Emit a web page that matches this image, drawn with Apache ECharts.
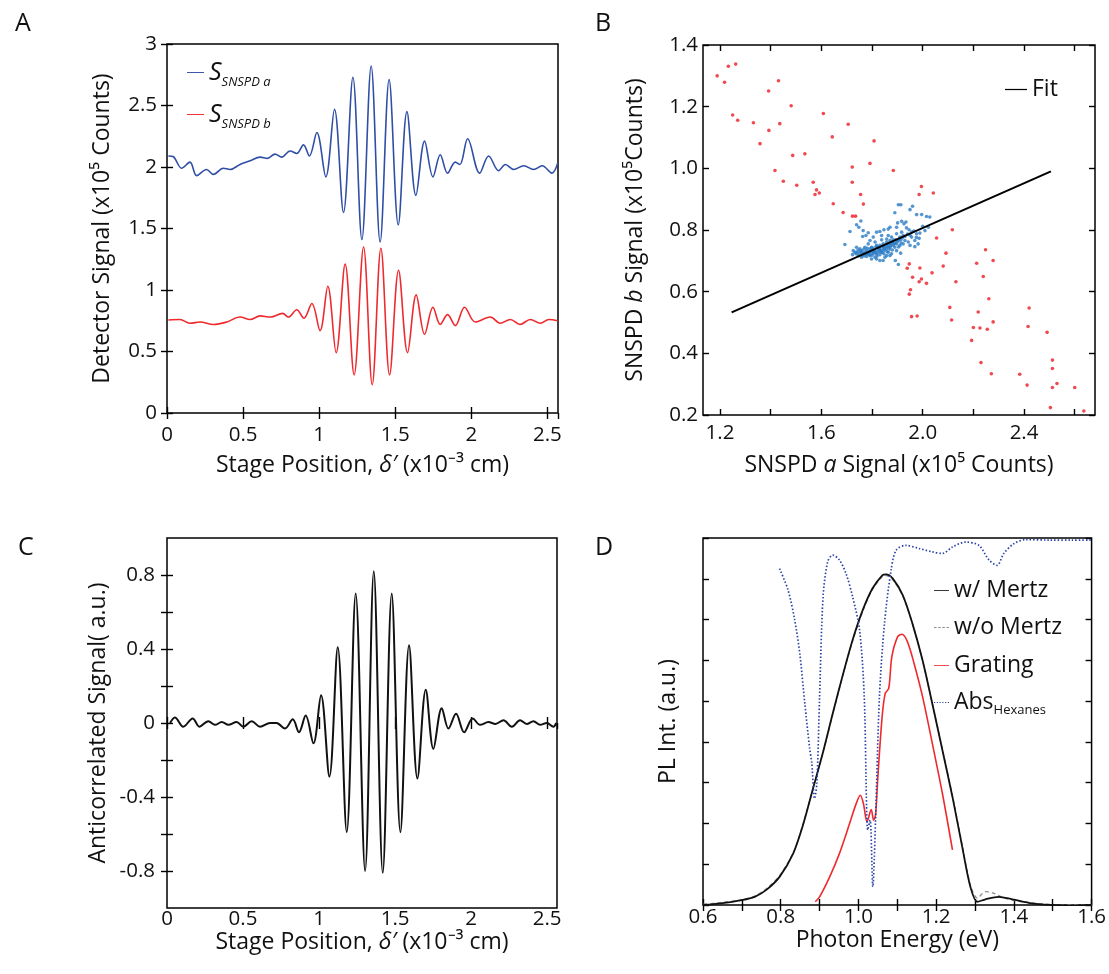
<!DOCTYPE html>
<html>
<head>
<meta charset="utf-8">
<script src="https://cdn.jsdelivr.net/npm/echarts@6/dist/echarts.min.js"></script>
<style>
html,body{margin:0;padding:0;background:#fff;}
#chart{width:1109px;height:974px;}
</style>
</head>
<body>
<div id="chart"></div>
<script>
// ---------------- DATA ----------------
// Panel A: detector signals [stage position (x10^-3 cm), signal (x10^5 counts)]
const aSignalA = [[0.009,2.09],[0.04,2.085],[0.096,1.99],[0.151,2.04],[0.195,1.93],[0.26,1.98],[0.305,1.94],[0.37,1.99],[0.415,1.98],[0.48,2.02],[0.546,2.05],[0.612,2.08],[0.66,2.07],[0.71,2.105],[0.754,2.08],[0.809,2.13],[0.853,2.11],[0.897,2.18],[0.936,2.09],[0.985,2.28],[1.044,1.92],[1.101,2.47],[1.16,1.63],[1.222,2.73],[1.281,1.41],[1.342,2.82],[1.401,1.39],[1.46,2.71],[1.52,1.53],[1.577,2.45],[1.636,1.77],[1.693,2.21],[1.748,1.92],[1.796,2.10],[1.844,1.95],[1.895,2.04],[1.925,2.02],[1.976,2.23],[2.055,1.95],[2.114,2.09],[2.18,1.97],[2.224,2.02],[2.279,1.98],[2.345,2.01],[2.41,1.98],[2.466,2.01],[2.53,1.95],[2.568,2.03]];
const aSignalB = [[0.009,0.756],[0.085,0.76],[0.151,0.73],[0.217,0.74],[0.305,0.72],[0.393,0.74],[0.48,0.78],[0.546,0.76],[0.612,0.79],[0.68,0.78],[0.76,0.81],[0.798,0.78],[0.853,0.84],[0.90,0.77],[0.952,0.89],[1.006,0.67],[1.057,1.03],[1.112,0.49],[1.171,1.21],[1.23,0.31],[1.292,1.35],[1.349,0.23],[1.406,1.34],[1.463,0.31],[1.522,1.16],[1.581,0.49],[1.638,0.96],[1.693,0.64],[1.748,0.86],[1.796,0.72],[1.844,0.80],[1.895,0.71],[1.956,0.86],[2.026,0.74],[2.125,0.78],[2.19,0.73],[2.257,0.76],[2.32,0.72],[2.388,0.76],[2.454,0.73],[2.51,0.76],[2.568,0.75]];

// Panel B: SNSPD a vs SNSPD b (x10^5 counts)
const bRedPoints = [[1.189,1.30],[1.218,1.279],[1.233,1.331],[1.262,1.338],[1.25,1.173],[1.27,1.156],[1.332,1.148],[1.392,1.251],[1.431,1.284],[1.358,1.080],[1.393,1.123],[1.436,1.145],[1.481,1.203],[1.417,0.993],[1.45,0.958],[1.487,1.042],[1.503,0.945],[1.535,1.047],[1.568,0.955],[1.575,0.915],[1.581,0.93],[1.592,0.92],[1.608,1.178],[1.643,1.102],[1.647,0.885],[1.686,0.857],[1.706,1.143],[1.722,1.004],[1.722,0.955],[1.723,0.845],[1.735,0.845],[1.755,0.915],[1.766,0.884],[1.792,1.016],[1.808,1.089],[1.884,0.993],[1.995,0.941],[1.986,0.915],[2.042,0.92],[2.055,0.774],[2.117,0.801],[1.947,0.69],[1.939,0.676],[1.96,0.647],[1.989,0.677],[1.995,0.641],[1.986,0.632],[2.015,0.627],[2.037,0.661],[2.081,0.683],[2.092,0.725],[2.131,0.632],[1.952,0.606],[1.947,0.592],[1.956,0.519],[1.978,0.521],[2.107,0.549],[2.114,0.508],[2.193,0.442],[2.2,0.484],[2.213,0.692],[2.219,0.534],[2.226,0.482],[2.23,0.37],[2.239,0.649],[2.248,0.736],[2.255,0.478],[2.261,0.577],[2.271,0.334],[2.278,0.701],[2.278,0.502],[2.383,0.332],[2.412,0.297],[2.416,0.487],[2.42,0.547],[2.491,0.468],[2.504,0.224],[2.512,0.378],[2.512,0.351],[2.512,0.289],[2.53,0.302],[2.6,0.289],[2.636,0.213]];
const bBluePoints = [[1.904,0.882],[1.914,0.882],[1.960,0.877],[1.950,0.866],[1.890,0.856],[1.976,0.850],[1.996,0.850],[2.015,0.844],[2.028,0.842],[1.917,0.828],[1.934,0.826],[1.901,0.823],[1.926,0.820],[1.756,0.829],[1.739,0.817],[1.748,0.809],[1.765,0.798],[1.785,0.791],[1.818,0.793],[1.831,0.795],[1.847,0.801],[1.864,0.803],[1.871,0.809],[1.897,0.809],[1.936,0.807],[1.946,0.801],[1.956,0.793],[1.976,0.788],[1.989,0.790],[2.009,0.798],[2.022,0.809],[1.956,0.777],[1.969,0.766],[1.986,0.773],[1.713,0.795],[1.763,0.779],[1.776,0.782],[1.805,0.777],[1.693,0.753],[1.792,0.766],[1.812,0.761],[1.838,0.768],[1.858,0.771],[1.877,0.777],[1.884,0.768],[1.904,0.766],[1.930,0.766],[1.943,0.761],[1.950,0.750],[1.969,0.746],[1.910,0.750],[1.923,0.755],[1.982,0.755],[1.913,0.725],[1.892,0.701],[1.904,0.688],[1.871,0.717],[1.851,0.712],[1.844,0.701],[1.831,0.701],[1.812,0.712],[1.792,0.717],[1.765,0.723],[1.733,0.728],[1.726,0.733],[1.723,0.720],[1.746,0.717],[1.759,0.712],[1.779,0.733],[1.805,0.736],[1.831,0.739],[1.851,0.744],[1.864,0.750],[1.877,0.755],[1.890,0.744],[1.897,0.733],[1.864,0.728],[1.838,0.728],[1.818,0.723],[1.798,0.728],[1.772,0.744],[1.752,0.739],[1.739,0.744],[1.785,0.755],[1.818,0.750],[1.844,0.755],[1.798,0.744],[1.858,0.761],[1.759,0.733],[1.772,0.728],[1.785,0.723],[1.750,0.725],[1.737,0.723],[1.792,0.739],[1.812,0.733],[1.825,0.736],[1.844,0.736],[1.858,0.739],[1.871,0.744],[1.884,0.750],[1.825,0.744],[1.831,0.750],[1.844,0.746],[1.805,0.725],[1.831,0.720],[1.847,0.723],[1.858,0.717],[1.877,0.723],[1.779,0.714],[1.818,0.706],[1.798,0.706],[1.871,0.766],[1.897,0.755],[1.910,0.777],[1.923,0.782],[1.864,0.782],[1.838,0.782],[1.897,0.788],[1.917,0.793],[1.74,0.728],[1.745,0.735],[1.755,0.731],[1.762,0.726],[1.768,0.738],[1.775,0.721],[1.781,0.741],[1.788,0.729],[1.795,0.734],[1.801,0.742],[1.808,0.731],[1.815,0.745],[1.821,0.728],[1.828,0.741],[1.835,0.733],[1.841,0.748],[1.848,0.741],[1.855,0.752],[1.861,0.745],[1.868,0.757],[1.874,0.749],[1.881,0.761],[1.887,0.756],[1.894,0.768],[1.9,0.762],[1.907,0.771],[1.914,0.768],[1.92,0.775],[1.76,0.719],[1.77,0.716],[1.78,0.724],[1.79,0.72],[1.8,0.718],[1.81,0.726],[1.82,0.716],[1.83,0.73],[1.84,0.727],[1.85,0.734],[1.86,0.73],[1.87,0.738],[1.88,0.735],[1.89,0.758],[1.905,0.745],[1.915,0.758],[1.93,0.779],[1.94,0.787],[1.95,0.783],[1.965,0.797],[1.975,0.776],[2.0,0.812]];
const bFitLine = [[1.246,0.533],[2.506,0.99]];

// Panel C: anticorrelated signal (a.u.)
const cSignal = [[0.02,0.0],[0.052,0.03],[0.107,-0.02],[0.169,0.025],[0.213,-0.02],[0.272,0.01],[0.316,-0.01],[0.36,0.005],[0.404,-0.01],[0.458,0.005],[0.502,-0.02],[0.557,0.01],[0.612,-0.02],[0.678,0.0],[0.72,0.0],[0.776,-0.03],[0.827,0.02],[0.868,-0.05],[0.912,0.04],[0.963,-0.11],[1.013,0.15],[1.068,-0.29],[1.123,0.41],[1.182,-0.59],[1.241,0.70],[1.303,-0.80],[1.36,0.82],[1.419,-0.81],[1.478,0.70],[1.535,-0.59],[1.592,0.42],[1.647,-0.30],[1.702,0.18],[1.752,-0.14],[1.807,0.08],[1.851,-0.03],[1.901,0.05],[1.954,-0.05],[2.011,0.025],[2.059,-0.01],[2.114,0.005],[2.16,-0.005],[2.213,0.015],[2.268,-0.02],[2.322,0.015],[2.366,-0.005],[2.41,0.01],[2.454,-0.01],[2.498,0.0],[2.541,-0.02],[2.56,0.0]];

// Panel D: PL spectra [photon energy (eV), intensity (a.u.)]
const dWithMertz = [[0.601,0],[0.645,0.04],[0.7,0.12],[0.733,0.2],[0.763,0.37],[0.797,0.69],[0.832,1.26],[0.857,1.95],[0.883,2.85],[0.909,3.75],[0.934,4.7],[0.96,5.65],[0.985,6.5],[1.011,7.23],[1.036,7.76],[1.062,8.09],[1.071,8.11],[1.088,8.01],[1.114,7.6],[1.139,6.9],[1.165,6.0],[1.19,4.94],[1.216,3.8],[1.242,2.65],[1.267,1.43],[1.288,0.45],[1.306,0.08],[1.327,0.14],[1.361,0.2],[1.396,0.14],[1.447,0.04],[1.498,0],[1.55,-0.02],[1.6,0]];
const dWithoutMertz = [[0.601,0.02],[0.645,0.06],[0.7,0.13],[0.733,0.22],[0.763,0.4],[0.797,0.72],[0.832,1.28],[0.857,1.97],[0.883,2.86],[0.909,3.75],[0.934,4.68],[0.96,5.63],[0.985,6.47],[1.011,7.2],[1.036,7.73],[1.062,8.06],[1.071,8.08],[1.088,7.98],[1.114,7.58],[1.139,6.9],[1.165,6.0],[1.19,4.95],[1.216,3.82],[1.242,2.68],[1.267,1.47],[1.288,0.5],[1.306,0.17],[1.327,0.33],[1.345,0.3],[1.375,0.17],[1.42,0.08],[1.47,0.03],[1.53,0.0],[1.6,0]];
const dGrating = [[0.889,0.08],[0.9,0.2],[0.926,0.69],[0.951,1.26],[0.977,1.99],[0.994,2.48],[1.005,2.69],[1.013,2.48],[1.022,2.04],[1.033,2.34],[1.039,2.08],[1.044,2.2],[1.05,3.14],[1.061,4.62],[1.069,5.19],[1.078,5.31],[1.086,6.09],[1.101,6.58],[1.112,6.64],[1.126,6.46],[1.143,5.93],[1.165,5.11],[1.19,3.97],[1.216,2.74],[1.242,1.35]];
const dAbsHexanes = [[0.797,8.25],[0.819,7.72],[0.836,6.99],[0.849,6.17],[0.862,4.94],[0.874,3.88],[0.88,3.47],[0.887,2.61],[0.893,2.98],[0.9,5.1],[0.909,7.56],[0.921,8.42],[0.934,8.58],[0.951,8.46],[0.968,8.13],[0.985,7.56],[1.003,6.74],[1.015,5.1],[1.024,1.84],[1.03,2.08],[1.037,0.45],[1.044,2.08],[1.054,5.1],[1.067,6.9],[1.084,8.21],[1.097,8.7],[1.122,8.82],[1.157,8.74],[1.19,8.66],[1.216,8.62],[1.242,8.78],[1.276,8.9],[1.31,8.82],[1.336,8.46],[1.357,8.33],[1.374,8.62],[1.4,8.86],[1.43,8.96],[1.49,8.95],[1.55,8.95],[1.6,8.95]];

// Tick values
const bTicksX = [1.2,1.4,1.6,1.8,2.0,2.2,2.4,2.6];
const bLabelsX = [1.2,1.6,2.0,2.4];
const cTicksY = [-0.8,-0.6,-0.4,-0.2,0,0.2,0.4,0.6,0.8];
const cLabelsY = [-0.8,-0.4,0,0.4,0.8];
const dTicksX = [0.6,0.7,0.8,0.9,1.0,1.1,1.2,1.3,1.4,1.5,1.6];
const dLabelsX = [0.6,0.8,1.0,1.2,1.4,1.6];

// ---------------- CHART ----------------
const FONT = "'Open Sans', sans-serif";
const TITLE_FS = 23;
const tickStyle = {show:true, inside:true, length:6, lineStyle:{color:'#000', width:1.4}};
const lblStyle = {color:'#111', fontSize:20.5, fontFamily:FONT};
const nameStyle = {color:'#111', fontSize:TITLE_FS, fontFamily:FONT,
  rich:{i:{fontStyle:'italic', fontSize:TITLE_FS, fontFamily:FONT, color:'#111'}}};

function pair(grid, dim, base){
  const main = Object.assign({type:'value', gridIndex:grid, axisLine:{show:false}, splitLine:{show:false},
    axisTick:tickStyle, axisLabel:Object.assign({}, lblStyle), nameTextStyle:nameStyle, nameLocation:'middle'}, base);
  const m = Object.assign({}, main, {name:'', axisLabel:{show:false}, position: dim==='x'?'top':'right'});
  main.position = dim==='x' ? 'bottom' : 'left';
  return [main, m];
}

const xAxes = [].concat(
  pair(0,'x',{min:0,max:2.57,interval:0.5, name:'Stage Position, {i|δ′} (x10⁻³ cm)', nameGap:41,
    axisLabel:Object.assign({},lblStyle,{margin:12})}),
  pair(1,'x',{min:1.133,max:2.68, name:'SNSPD {i|a} Signal (x10⁵ Counts)', nameGap:39,
    axisTick:Object.assign({},tickStyle,{customValues:bTicksX}),
    axisLabel:Object.assign({},lblStyle,{margin:8, customValues:bLabelsX, formatter:v=>(+v).toFixed(1)})}),
  pair(2,'x',{min:0,max:2.565,interval:0.5, name:'Stage Position, {i|δ′} (x10⁻³ cm)', nameGap:20,
    axisLabel:Object.assign({},lblStyle,{margin:1})}),
  pair(3,'x',{min:0.6,max:1.6, name:'Photon Energy (eV)', nameGap:23,
    axisTick:Object.assign({},tickStyle,{customValues:dTicksX}),
    axisLabel:Object.assign({},lblStyle,{margin:2, customValues:dLabelsX, formatter:v=>(+v).toFixed(1)})})
);
const yAxes = [].concat(
  pair(0,'y',{min:0,max:3,interval:0.5, name:'Detector Signal (x10⁵ Counts)', nameGap:53,
    axisLabel:Object.assign({},lblStyle,{margin:10})}),
  pair(1,'y',{min:0.2,max:1.4,interval:0.2, name:'SNSPD {i|b} Signal (x10⁵Counts)', nameGap:56,
    axisLabel:Object.assign({},lblStyle,{margin:5, formatter:v=>(+v).toFixed(1)})}),
  pair(2,'y',{min:-1,max:1, name:'Anticorrelated Signal( a.u.)', nameGap:57,
    axisTick:Object.assign({},tickStyle,{customValues:cTicksY}),
    axisLabel:Object.assign({},lblStyle,{margin:12, customValues:cLabelsY})}),
  pair(3,'y',{min:0,max:9,interval:1, name:'PL Int. (a.u.)', nameGap:23,
    axisLabel:{show:false}})
);

const grids = [
  {left:167, top:44, width:391, height:369},
  {left:703, top:45, width:392, height:370},
  {left:167, top:538, width:390, height:370},
  {left:703, top:538, width:390, height:367}
].map(g => Object.assign(g, {show:true, borderColor:'#000', borderWidth:1.5, containLabel:false}));

const letters = [['A',10,6],['B',590,6],['C',13,530],['D',590,530]].map(([t,l,tp]) => ({
  text:t, left:l, top:tp, textStyle:{fontSize:25, fontWeight:'normal', color:'#111', fontFamily:FONT}}));

const ICON_SOLID = 'path://M0,0h18v1h-18z';
const ICON_DASH = 'path://M0,0h3v1h-3z M5,0h3v1h-3z M10,0h3v1h-3z M15,0h3v1h-3z';
const ICON_DOT = 'path://M0,0h1.4v1h-1.4z M3.3,0h1.4v1h-1.4z M6.6,0h1.4v1h-1.4z M9.9,0h1.4v1h-1.4z M13.2,0h1.4v1h-1.4z M16.5,0h1.4v1h-1.4z';

const richA = {
  s:{fontSize:25, fontStyle:'italic', fontFamily:FONT, lineHeight:32, color:'#111'},
  sub:{fontSize:13, fontStyle:'italic', fontFamily:FONT, verticalAlign:'bottom', color:'#111'}};
const richD = {
  n:{fontSize:23, fontFamily:FONT, lineHeight:28, color:'#111'},
  sub:{fontSize:13, fontFamily:FONT, verticalAlign:'bottom', color:'#111'}};

function legA(name, top){
  return {data:[{name:name, icon:ICON_SOLID}], left:182, top:top, itemWidth:17, itemHeight:1.8,
    formatter: n => '{s|S}{sub|' + n + '}', textStyle:{color:'#111', fontFamily:FONT, rich:richA}};
}
function legD(name, icon, top){
  return {data:[{name:name, icon:icon}], left:929, top:top, itemWidth:15, itemHeight:2,
    formatter: n => n==='Abs' ? '{n|Abs}{sub|Hexanes}' : '{n|' + n + '}',
    textStyle:{color:'#111', fontFamily:FONT, rich:richD}};
}

const option = {
  animation:false,
  backgroundColor:'#fff',
  title: letters,
  grid: grids,
  xAxis: xAxes,
  yAxis: yAxes,
  legend: [
    legA('SNSPD a', 55),
    legA('SNSPD b', 97),
    {data:[{name:'Fit', icon:ICON_SOLID}], left:1000, top:73, itemWidth:22, itemHeight:2,
     formatter: n => '{n|' + n + '}', textStyle:{color:'#111', fontFamily:FONT, rich:richD}},
    legD('w/ Mertz', ICON_SOLID, 574),
    legD('w/o Mertz', ICON_DASH, 611),
    legD('Grating', ICON_SOLID, 649),
    legD('Abs', ICON_DOT, 686)
  ],
  series: [
    {name:'SNSPD a', type:'line', xAxisIndex:0, yAxisIndex:0, data:aSignalA, smooth:0.35, symbol:'none',
     lineStyle:{color:'#2f4ea6', width:1.6}, itemStyle:{color:'#2f4ea6'}},
    {name:'SNSPD b', type:'line', xAxisIndex:0, yAxisIndex:0, data:aSignalB, smooth:0.35, symbol:'none',
     lineStyle:{color:'#ee2a2e', width:1.6}, itemStyle:{color:'#ee2a2e'}},
    {name:'SNSPD b events', type:'scatter', xAxisIndex:2, yAxisIndex:2, data:bRedPoints, symbolSize:3.6,
     itemStyle:{color:'#ec1c24'}},
    {name:'SNSPD a events', type:'scatter', xAxisIndex:2, yAxisIndex:2, data:bBluePoints, symbolSize:3.6,
     itemStyle:{color:'#2a7cc6'}},
    {name:'Fit', type:'line', xAxisIndex:2, yAxisIndex:2, data:bFitLine, symbol:'none',
     lineStyle:{color:'#000', width:2}, itemStyle:{color:'#000'}},
    {name:'Anticorrelated', type:'line', xAxisIndex:4, yAxisIndex:4, data:cSignal, smooth:0.35, symbol:'none',
     lineStyle:{color:'#111', width:2}},
    {name:'w/o Mertz', type:'line', xAxisIndex:6, yAxisIndex:6, data:dWithoutMertz, smooth:0.3, symbol:'none',
     lineStyle:{color:'#8c8c8c', width:1.3, type:[4,3]}, itemStyle:{color:'#8c8c8c'}},
    {name:'w/ Mertz', type:'line', xAxisIndex:6, yAxisIndex:6, data:dWithMertz, smooth:0.3, symbol:'none',
     lineStyle:{color:'#111', width:1.8}, itemStyle:{color:'#111'}},
    {name:'Grating', type:'line', xAxisIndex:6, yAxisIndex:6, data:dGrating, smooth:0.3, symbol:'none',
     lineStyle:{color:'#ee2a2e', width:1.6}, itemStyle:{color:'#ee2a2e'}},
    {name:'Abs', type:'line', xAxisIndex:6, yAxisIndex:6, data:dAbsHexanes, smooth:0.3, symbol:'none',
     lineStyle:{color:'#2a42a8', width:1.7, type:[1.5,2]}, itemStyle:{color:'#2a42a8'}}
  ]
};
const chart = echarts.init(document.getElementById('chart'), null, {renderer:'canvas'});
chart.setOption(option);
</script>
</body>
</html>
